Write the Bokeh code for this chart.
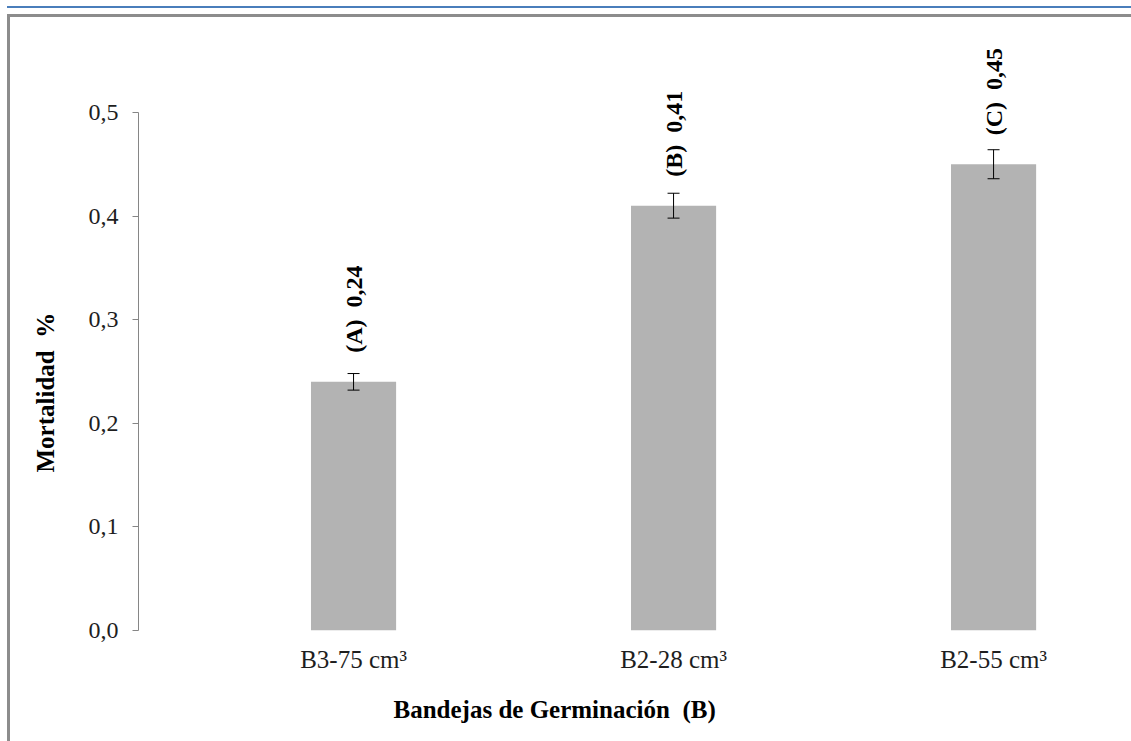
import math
from bokeh.plotting import figure
from bokeh.models import (ColumnDataSource, Range1d, FixedTicker, Whisker, LabelSet,
                          Title, TeeHead)
from bokeh.embed import file_html
from bokeh.resources import INLINE

# ---------------- data ----------------
categories = ["B3-75 cm³", "B2-28 cm³", "B2-55 cm³"]
mortalidad = [0.24, 0.41, 0.45]
error = [0.008, 0.012, 0.014]
letters = ["A", "B", "C"]
value_labels = ["0,24", "0,41", "0,45"]
y_ticks = [0.0, 0.1, 0.2, 0.3, 0.4, 0.5]
y_tick_labels = ["0,0", "0,1", "0,2", "0,3", "0,4", "0,5"]
x_title = "Bandejas de Germinación\u00a0 (B)"
y_title = "Mortalidad\u00a0 %"

NB = "\u00a0\u00a0"
xs = list(range(len(categories)))
src = ColumnDataSource(dict(
    x=xs,
    y=mortalidad,
    upper=[v + e for v, e in zip(mortalidad, error)],
    lower=[v - e for v, e in zip(mortalidad, error)],
    lab=[f"({l}){NB}{v}" for l, v in zip(letters, value_labels)],
))

FONT = "Liberation Serif"
W, H = 1131, 741

p = figure(width=W, height=H, output_backend="svg", toolbar_location=None,
           x_range=Range1d(-0.672, 2.431), y_range=Range1d(0, 0.581),
           min_border_left=138, min_border_right=0, min_border_top=28,
           min_border_bottom=111)
p.outline_line_color = None
p.xgrid.visible = False
p.ygrid.visible = False
p.background_fill_color = "white"
p.border_fill_color = None
p.styles = {
    "background-color": "white",
    "background-image": ("linear-gradient(#4a7ebb, #4a7ebb), "
                         "linear-gradient(#8c8c8c, #8c8c8c), "
                         "linear-gradient(#8c8c8c, #8c8c8c)"),
    "background-size": "100% 2px, 100% 3px, 3px 100%",
    "background-position": "7px 6px, 7px 14px, 7px 14px",
    "background-repeat": "no-repeat",
}

p.vbar(x="x", top="y", bottom=0, width=0.266, source=src,
       fill_color="#b3b3b3", line_color=None)

wh = Whisker(base="x", upper="upper", lower="lower", source=src, level="overlay",
             line_color="black", line_width=1,
             upper_head=TeeHead(size=12, line_color="black", line_width=1),
             lower_head=TeeHead(size=12, line_color="black", line_width=1))
p.add_layout(wh)

labels = LabelSet(x="x", y="y", text="lab", source=src, angle=math.pi / 2,
                  text_align="left", text_baseline="middle", y_offset=29,
                  x_offset=0,
                  text_font=FONT, text_font_style="bold", text_font_size="24px",
                  text_color="black")
p.add_layout(labels)

# y axis
ya = p.yaxis[0]
ya.ticker = FixedTicker(ticks=y_ticks)
ya.major_label_overrides = {t: l for t, l in zip(y_ticks, y_tick_labels)}
ya.bounds = (0, 0.5)
ya.axis_line_color = "#868686"
ya.major_tick_line_color = "#868686"
ya.major_tick_out = 6
ya.major_tick_in = 0
ya.minor_tick_line_color = None
ya.major_label_standoff = 14
ya.major_label_text_font = FONT
ya.major_label_text_font_size = "24px"
ya.major_label_text_color = "#1e1e1e"

# x axis
xa = p.xaxis[0]
xa.ticker = FixedTicker(ticks=xs)
xa.major_label_overrides = {i: c for i, c in zip(xs, categories)}
xa.axis_line_color = None
xa.major_tick_line_color = None
xa.minor_tick_line_color = None
xa.major_label_standoff = 9
xa.major_label_text_font = FONT
xa.major_label_text_font_size = "25px"
xa.major_label_text_color = "#1e1e1e"

# axis titles
p.add_layout(Title(text=x_title, align="left", offset=255, standoff=36,
                   text_font=FONT, text_font_style="bold", text_font_size="25px",
                   text_color="black"), "below")
p.add_layout(Title(text=y_title, align="left", offset=158, standoff=54,
                   text_font=FONT, text_font_style="bold", text_font_size="25px",
                   text_color="black"), "left")

open("out.html", "w").write(file_html(p, INLINE))
